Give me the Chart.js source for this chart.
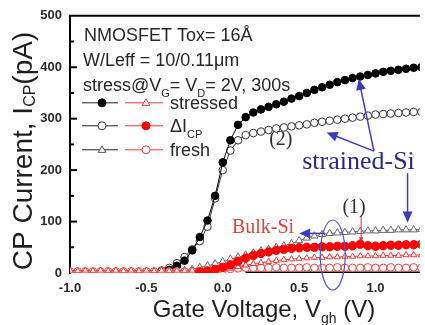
<!DOCTYPE html>
<html>
<head>
<meta charset="utf-8">
<script src="https://cdn.jsdelivr.net/npm/chart.js@4.4.1/dist/chart.umd.min.js"></script>
<style>
  html, body { margin: 0; padding: 0; background: #fff; }
  #cp { display: block; }
</style>
</head>
<body>
<canvas id="cp" width="425" height="325"></canvas>
<script>
// gate voltage (V)
const volts = [-1.00, -0.95, -0.90, -0.85, -0.80, -0.75, -0.70, -0.65, -0.60, -0.55,
  -0.50, -0.45, -0.40, -0.35, -0.30, -0.25, -0.20, -0.15, -0.10, -0.05,
  0.00, 0.05, 0.10, 0.15, 0.20, 0.25, 0.30, 0.35, 0.40, 0.45,
  0.50, 0.55, 0.60, 0.65, 0.70, 0.75, 0.80, 0.85, 0.90, 0.95,
  1.00, 1.05, 1.10, 1.15, 1.20, 1.25, 1.30];

// strained-Si (black)
const strainedStressed = [null, null, null, null, null, null, null, null, null, null,
  null, null, 2, 6, 14, 24, 44, 70, 102, 150,
  215, 258, 288, 303, 312, 318, 323, 328, 333, 339,
  344, 350, 356, 361, 366, 371, 375, 379, 382, 385,
  388, 391, 393, 395, 397, 399, 400];
const strainedDelta = [null, null, null, null, null, null, null, null, null, null,
  null, 2, 5, 10, 19, 31, 46, 62, 90, 145,
  200, 238, 258, 268, 272, 275, 278, 281, 283, 285,
  287, 289, 292, 294, 296, 298, 300, 302, 304, 306,
  308, 309, 310, 311, 312, 313, 313];
const strainedFresh = [null, null, null, null, null, null, null, null, null, null,
  null, null, null, 3, 4, 5, 7, 11, 14, 18,
  22, 27, 31, 35, 39, 43, 46, 50, 53, 57,
  63, 68, 72, 75, 77, 78, 79, 80, 81, 82,
  82, 83, 83, 84, 84, 84, 85];

// bulk-Si (red)
const bulkStressed = [5, 4, 5, 4, 5, 4, 5, 4, 5, 4,
  5, 4, 5, 4, 5, 4, 5, 5, 5, 6,
  7, 9, 12, 15, 18, 20, 22, 24, 26, 27,
  28, 29, 30, 30, 31, 31, 32, 32, 33, 33,
  33, 34, 34, 34, 35, 35, 35];
const bulkDelta = [null, null, null, null, null, null, null, null, null, null,
  null, null, null, null, null, null, null, 2, 4, 7,
  11, 16, 23, 29, 34, 38, 41, 44, 46, 48,
  49, 50, 50, 51, 51, 52, 52, 53, 56, 53,
  52, 53, 54, 54, 55, 55, 56];
const bulkFresh = [3, 3, 3, 3, 3, 3, 3, 3, 3, 3,
  3, 3, 3, 3, 3, 3, 3, 3, 4, 5,
  6, 8, 9, 10, 10, 10, 10, 11, 10, 10,
  10, 11, 10, 10, 10, 11, 10, 10, 10, 11,
  10, 10, 11, 10, 10, 11, 10];
const bulkBase = [null, null, null, null, null, null, null, null, null, null,
  null, null, null, null, null, null, null, null, null, null,
  null, null, null, 0, 0, 0, 0, 0, 0, 0,
  0, 0, 0, 0, 0, 0, 0, 0, 0, 0,
  0, 0, 0, 0, 0, 0, 0];

const xTicks = [-1.0, -0.5, 0.0, 0.5, 1.0];
const yTicks = [0, 100, 200, 300, 400, 500];

const SANS = '"Liberation Sans", Arial, sans-serif';
const SERIF = '"Liberation Serif", "Times New Roman", serif';

function pts(arr) {
  return volts.map((v, i) => ({ x: v, y: arr[i] }));
}

function series(label, arr, style, order) {
  return Object.assign({
    label: label,
    data: pts(arr),
    borderWidth: 1,
    pointBorderWidth: 1,
    order: order
  }, style);
}

// draw text made of normal and subscript parts, left aligned on a baseline
function textRun(ctx, parts, x, y, size, subSize, subDy, family, measureOnly) {
  let cx = x;
  parts.forEach(p => {
    ctx.font = (p.sub ? subSize : size) + 'px ' + family;
    if (!measureOnly) ctx.fillText(p.t, cx, y + (p.sub ? subDy : 0));
    cx += ctx.measureText(p.t).width;
  });
  return cx - x;
}

function marker(ctx, kind, x, y, r, stroke, fill) {
  ctx.beginPath();
  if (kind === 'circle') {
    ctx.arc(x, y, r, 0, Math.PI * 2);
  } else {
    ctx.moveTo(x, y - r);
    ctx.lineTo(x + r * 0.95, y + r * 0.65);
    ctx.lineTo(x - r * 0.95, y + r * 0.65);
    ctx.closePath();
  }
  ctx.fillStyle = fill;
  ctx.fill();
  ctx.lineWidth = 1;
  ctx.strokeStyle = stroke;
  ctx.stroke();
}

function arrow(ctx, x1, y1, x2, y2, color, head, width) {
  const a = Math.atan2(y2 - y1, x2 - x1);
  ctx.strokeStyle = color;
  ctx.lineWidth = width;
  ctx.beginPath();
  ctx.moveTo(x1, y1);
  ctx.lineTo(x2 - head * 0.8 * Math.cos(a), y2 - head * 0.8 * Math.sin(a));
  ctx.stroke();
  const bx = x2 - head * Math.cos(a), by = y2 - head * Math.sin(a);
  const hw = head * 0.45;
  ctx.beginPath();
  ctx.moveTo(x2, y2);
  ctx.lineTo(bx + hw * Math.sin(a), by - hw * Math.cos(a));
  ctx.lineTo(bx - hw * Math.sin(a), by + hw * Math.cos(a));
  ctx.closePath();
  ctx.fillStyle = color;
  ctx.fill();
}

const decor = {
  id: 'decor',
  afterDraw(chart) {
    const { ctx, chartArea: ca, scales: { x, y } } = chart;
    const px = v => x.getPixelForValue(v);
    const py = v => y.getPixelForValue(v);
    ctx.save();

    // top frame and inward ticks on the y axis
    ctx.strokeStyle = '#000';
    ctx.lineWidth = 2;
    ctx.beginPath();
    ctx.moveTo(ca.left - 1, ca.top);
    ctx.lineTo(ca.right, ca.top);
    ctx.stroke();
    for (let v = 50; v < 500; v += 50) {
      const len = v % 100 === 0 ? 7 : 4;
      ctx.beginPath();
      ctx.moveTo(ca.left, py(v));
      ctx.lineTo(ca.left + len, py(v));
      ctx.stroke();
    }

    // header text
    ctx.fillStyle = '#262626';
    ctx.textBaseline = 'alphabetic';
    textRun(ctx, [{ t: 'NMOSFET Tox= 16Å' }], ca.left + 14, ca.top + 25, 18, 11, 6, SANS);
    textRun(ctx, [{ t: 'W/Leff = 10/0.11μm' }], ca.left + 13, ca.top + 50, 18, 11, 6, SANS);
    textRun(ctx, [{ t: 'stress@V' }, { t: 'G', sub: true }, { t: '= V' }, { t: 'D', sub: true }, { t: '= 2V, 300s' }],
      ca.left + 13, ca.top + 75, 18, 11, 6, SANS);

    // legend: strained (black) and bulk (red) samples per row
    const rows = [
      { dy: 87, b: ['circle', '#000', '#000'], r: ['triangle', '#f03a3a', '#fff'], parts: [{ t: 'stressed' }] },
      { dy: 110, b: ['circle', '#333', '#fff'], r: ['circle', '#ff0000', '#ff0000'], parts: [{ t: 'ΔI' }, { t: 'CP', sub: true }] },
      { dy: 134, b: ['triangle', '#555', '#fff'], r: ['circle', '#f04040', '#fff'], parts: [{ t: 'fresh' }] }
    ];
    rows.forEach(row => {
      const yy = ca.top + row.dy;
      ctx.lineWidth = 1;
      ctx.strokeStyle = '#222';
      ctx.beginPath(); ctx.moveTo(ca.left + 12, yy); ctx.lineTo(ca.left + 48, yy); ctx.stroke();
      marker(ctx, row.b[0], ca.left + 32, yy, 4, row.b[1], row.b[2]);
      ctx.strokeStyle = '#f03a3a';
      ctx.lineWidth = 1;
      ctx.beginPath(); ctx.moveTo(ca.left + 55, yy); ctx.lineTo(ca.left + 93, yy); ctx.stroke();
      marker(ctx, row.r[0], ca.left + 76, yy, 4, row.r[1], row.r[2]);
      ctx.fillStyle = '#262626';
      textRun(ctx, row.parts, ca.left + 100, yy + 6, 18, 11, 6, SANS);
    });

    // blue annotations
    const blue = '#3b3bc4';
    arrow(ctx, px(0.99), py(237), px(0.68), py(273), blue, 11, 1.5);
    arrow(ctx, px(0.99), py(237), px(0.89), py(377), blue, 11, 1.5);
    arrow(ctx, px(1.21), py(194), px(1.21), py(98), blue, 11, 1.5);
    arrow(ctx, px(0.67), py(77), px(0.50), py(77), blue, 11, 1.5);
    ctx.strokeStyle = '#5252c8';
    ctx.lineWidth = 1.2;
    ctx.beginPath();
    ctx.ellipse(px(0.72), py(35), 12.5, 35, 0, 0, Math.PI * 2);
    ctx.stroke();
    arrow(ctx, px(0.906), py(111), px(0.906), py(60), '#e83030', 5, 1);

    ctx.font = '26px ' + SERIF;
    ctx.fillStyle = '#2a2a86';
    ctx.textAlign = 'left';
    ctx.fillText('strained-Si', px(0.52), py(202));
    ctx.font = '20px ' + SERIF;
    ctx.fillStyle = '#e0443c';
    ctx.fillText('Bulk-Si', px(0.06), py(77));
    ctx.fillStyle = '#2e2e2e';
    ctx.textAlign = 'center';
    ctx.textBaseline = 'middle';
    ctx.fillText('(2)', px(0.38), py(260));
    ctx.fillText('(1)', px(0.86), py(127));

    // axis titles
    ctx.textAlign = 'left';
    ctx.textBaseline = 'alphabetic';
    ctx.fillStyle = '#1e1e1e';
    const yParts = [{ t: 'CP Current, I' }, { t: 'CP', sub: true }, { t: '(pA)' }];
    const yw = textRun(ctx, yParts, 0, 0, 28, 16, 3, SANS, true);
    ctx.save();
    ctx.translate(22, 151);
    ctx.rotate(-Math.PI / 2);
    textRun(ctx, yParts, -yw / 2, 10, 28, 16, 3, SANS);
    ctx.restore();
    const xParts = [{ t: 'Gate Voltage, V' }, { t: 'gh', sub: true }, { t: ' (V)' }];
    const xw = textRun(ctx, xParts, 0, 0, 24, 14, 6, SANS, true);
    textRun(ctx, xParts, 264 - xw / 2, 317, 24, 14, 6, SANS);

    ctx.restore();
  }
};

new Chart(document.getElementById('cp'), {
  type: 'line',
  data: {
    datasets: [
      series('bulk ΔIcp', bulkDelta, {
        borderColor: '#ff0000', pointStyle: 'circle', pointRadius: 4.2,
        pointBackgroundColor: '#ff0000', pointBorderColor: '#ff0000'
      }, 1),
      series('bulk stressed', bulkStressed, {
        borderColor: '#f03a3a', pointStyle: 'triangle', pointRadius: 3.5,
        pointBackgroundColor: '#fff', pointBorderColor: '#f03a3a'
      }, 2),
      series('bulk fresh', bulkFresh, {
        borderColor: '#f04040', pointStyle: 'circle', pointRadius: 3.8,
        pointBackgroundColor: '#fff', pointBorderColor: '#f04040'
      }, 3),
      series('strained stressed', strainedStressed, {
        borderColor: '#000', pointStyle: 'circle', pointRadius: 3.8,
        pointBackgroundColor: '#000', pointBorderColor: '#000'
      }, 4),
      series('strained ΔIcp', strainedDelta, {
        borderColor: '#333', pointStyle: 'circle', pointRadius: 3.8,
        pointBackgroundColor: '#fff', pointBorderColor: '#333'
      }, 5),
      series('strained fresh', strainedFresh, {
        borderColor: '#666', pointStyle: 'triangle', pointRadius: 4.2,
        pointBackgroundColor: '#fff', pointBorderColor: '#666'
      }, 6),
      series('base', bulkBase, {
        borderColor: '#000', borderWidth: 3, pointRadius: 0
      }, 7)
    ]
  },
  options: {
    responsive: false,
    maintainAspectRatio: false,
    animation: false,
    layout: { padding: { top: 13, right: 0, left: 0, bottom: 0 } },
    plugins: {
      legend: { display: false },
      tooltip: { enabled: false }
    },
    scales: {
      x: {
        type: 'linear',
        min: -1,
        max: 1.29,
        afterFit: s => { s.height = 52; },
        afterBuildTicks: s => { s.ticks = xTicks.map(v => ({ value: v })); },
        grid: { display: false, drawTicks: false },
        border: { display: false },
        ticks: {
          padding: 8,
          color: '#2a2a2a',
          font: { family: SANS, size: 13, weight: 'bold' },
          callback: v => v.toFixed(1)
        }
      },
      y: {
        min: 0,
        max: 500,
        afterFit: s => { s.width = 70; },
        afterBuildTicks: s => { s.ticks = yTicks.map(v => ({ value: v })); },
        grid: { display: false, drawTicks: false },
        border: { display: true, color: '#000', width: 2 },
        ticks: {
          padding: 8,
          color: '#2a2a2a',
          font: { family: SANS, size: 13, weight: 'bold' }
        }
      }
    }
  },
  plugins: [decor]
});
</script>
</body>
</html>
